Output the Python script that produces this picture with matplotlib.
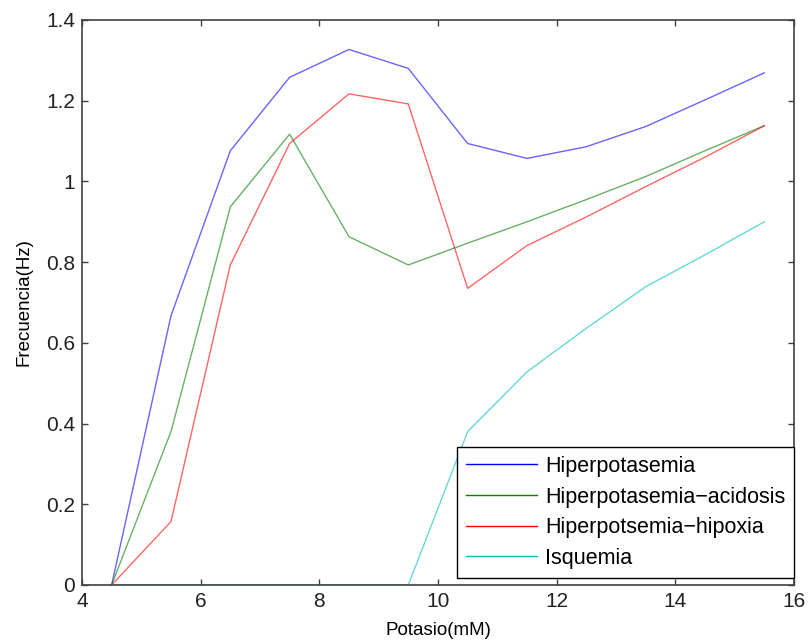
import numpy as np
import matplotlib.pyplot as plt

plt.rcParams['font.family'] = ['Liberation Sans', 'DejaVu Sans']

# Data
potasio = [4.5, 5.5, 6.5, 7.5, 8.5, 9.5, 10.5, 11.5, 12.5, 13.5, 14.5, 15.5]
hiperpotasemia = [0, 0.667, 1.076, 1.258, 1.327, 1.280, 1.094, 1.057, 1.086, 1.136, 1.202, 1.269]
hiper_acidosis = [0, 0.380, 0.937, 1.117, 0.863, 0.793, 0.847, 0.900, 0.955, 1.012, 1.076, 1.138]
hiper_hipoxia = [0, 0.157, 0.793, 1.094, 1.217, 1.192, 0.735, 0.841, 0.912, 0.987, 1.060, 1.138]
isquemia = [0, 0, 0, 0, 0, 0, 0.380, 0.528, 0.636, 0.739, 0.818, 0.900]

labels = ['Hiperpotasemia', 'Hiperpotasemia\u2212acidosis',
          'Hiperpotsemia\u2212hipoxia', 'Isquemia']
colors = ['#0000ff', '#007f00', '#ff0000', '#00bfbf']
series = [hiperpotasemia, hiper_acidosis, hiper_hipoxia, isquemia]

fig = plt.figure(figsize=(8.10, 6.41), dpi=100)
ax = fig.add_axes([0.1012, 0.0874, 0.8790, 0.8814])

for y, c, lab in zip(series, colors, labels):
    ax.plot(potasio, y, color=c, alpha=0.6, linewidth=1.0, label=lab)

ax.set_xlim(4, 16)
ax.set_ylim(0, 1.4)
ax.set_xticks(np.arange(4, 17, 2))
ax.set_yticks([0, 0.2, 0.4, 0.6, 0.8, 1, 1.2, 1.4])
ax.set_yticklabels(['0', '0.2', '0.4', '0.6', '0.8', '1', '1.2', '1.4'])
ax.tick_params(direction='in', top=True, right=True, length=4.5, width=1,
               color='#404040', labelsize=15, labelcolor='#222222', pad=5)
for sp in ax.spines.values():
    sp.set_color('#404040')
    sp.set_linewidth(1.2)

ax.set_xlabel('Potasio(mM)', fontsize=13.5, labelpad=8)
ax.set_ylabel('Frecuencia(Hz)', fontsize=13.5, labelpad=10)

# legend uses full-strength colours
handles = [plt.Line2D([], [], color=c, linewidth=1.0) for c in colors]
leg = ax.legend(handles, labels, loc='lower right', bbox_to_anchor=(1.0, 0.013),
                borderaxespad=0, fontsize=15.5, handlelength=3.3, handletextpad=0.37,
                labelspacing=0.45, fancybox=False, framealpha=1,
                edgecolor='black', borderpad=0.4)
leg.get_frame().set_linewidth(1.0)

plt.savefig('out.png', dpi=100)
